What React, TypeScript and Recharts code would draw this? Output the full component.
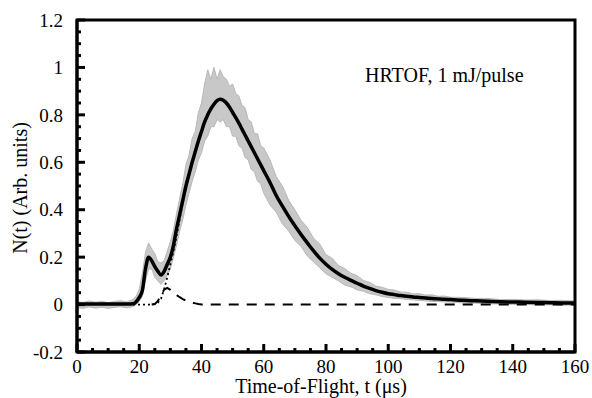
import React from "react";
import {
  Area,
  ComposedChart,
  Line,
  XAxis,
  YAxis,
} from "recharts";

// time axis (µs)
const TIME = [
  0, 2, 4, 6, 8, 10, 12, 14, 16,
  18, 19, 20, 21, 22, 23, 24, 25, 26, 27, 28, 29, 30, 31, 32, 33, 34, 35, 36, 37, 38, 39,
  40, 41, 42, 43, 44, 45, 46, 47, 48, 49, 50, 51, 52, 53, 54, 55, 56, 57, 58, 59, 60,
  62, 64, 66, 68, 70, 72, 74, 76, 78, 80, 82, 84, 86, 88, 90, 92, 94, 96, 98, 100,
  102, 104, 106, 108, 110, 112, 114, 116, 118, 120,
  124, 128, 132, 136, 140, 144, 148, 152, 156, 160,
];

// total fit (thick black)
const FIT = [
  0.002, 0.002, 0.002, 0.002, 0.002, 0.002, 0.002, 0.002, 0.002,
  0.003, 0.012, 0.03, 0.06, 0.15, 0.2, 0.185, 0.16, 0.14, 0.125, 0.14, 0.17, 0.2, 0.25, 0.32, 0.38, 0.44, 0.5, 0.55, 0.6, 0.645, 0.69,
  0.73, 0.77, 0.8, 0.825, 0.845, 0.86, 0.866, 0.862, 0.85, 0.832, 0.81, 0.788, 0.765, 0.74, 0.715, 0.69, 0.665, 0.64, 0.615, 0.59, 0.565,
  0.515, 0.46, 0.415, 0.372, 0.332, 0.295, 0.26, 0.226, 0.196, 0.17, 0.148, 0.13, 0.115, 0.102, 0.09, 0.078, 0.068, 0.059, 0.052, 0.046,
  0.042, 0.038, 0.035, 0.032, 0.03, 0.028, 0.026, 0.024, 0.022, 0.021,
  0.018, 0.016, 0.014, 0.012, 0.011, 0.01, 0.009, 0.008, 0.007, 0.007,
];

// measured signal spread (gray)
const GRAY_LO = [
  -0.013, -0.016, -0.01, -0.015, -0.011, -0.016, -0.012, -0.009, -0.014,
  -0.008, 0.0, 0.012, 0.035, 0.1, 0.15, 0.15, 0.115, 0.1, 0.085, 0.1, 0.125, 0.15, 0.2, 0.25, 0.31, 0.36, 0.42, 0.47, 0.52, 0.56, 0.61,
  0.64, 0.69, 0.71, 0.75, 0.75, 0.78, 0.77, 0.78, 0.75, 0.75, 0.71, 0.71, 0.67, 0.66, 0.62, 0.61, 0.57, 0.56, 0.52, 0.51, 0.47,
  0.42, 0.39, 0.34, 0.31, 0.27, 0.245, 0.205, 0.18, 0.155, 0.13, 0.115, 0.1, 0.082, 0.075, 0.062, 0.056, 0.046, 0.041, 0.034, 0.03,
  0.026, 0.025, 0.021, 0.02, 0.017, 0.016, 0.013, 0.013, 0.011, 0.011,
  0.007, 0.006, 0.003, 0.003, 0.001, 0.001, -0.001, -0.001, -0.003, -0.002,
];
const GRAY_HI = [
  0.012, 0.009, 0.015, 0.01, 0.014, 0.008, 0.013, 0.016, 0.011,
  0.022, 0.035, 0.065, 0.13, 0.22, 0.26, 0.235, 0.215, 0.18, 0.175, 0.185, 0.225, 0.265, 0.315, 0.385, 0.45, 0.51, 0.59, 0.63, 0.7, 0.73, 0.81,
  0.85, 0.93, 0.99, 0.95, 1.0, 0.95, 0.99, 0.96, 0.95, 0.92, 0.93, 0.89, 0.88, 0.84, 0.83, 0.78, 0.77, 0.72, 0.72, 0.67, 0.66,
  0.61, 0.54, 0.5, 0.44, 0.4, 0.355, 0.325, 0.28, 0.255, 0.21, 0.195, 0.165, 0.152, 0.132, 0.122, 0.102, 0.094, 0.078, 0.073, 0.064,
  0.061, 0.053, 0.052, 0.045, 0.046, 0.04, 0.041, 0.035, 0.036, 0.031,
  0.03, 0.026, 0.026, 0.021, 0.022, 0.019, 0.02, 0.017, 0.018, 0.015,
];

// slow component (dotted), visible only where it leaves the fit
const DOTTED_T = [18, 19, 20, 21, 22, 23, 24, 25, 26, 27, 28, 29, 30, 31, 32, 33, 34, 35, 36];
const DOTTED = [0.001, 0, 0, 0, 0, 0, 0, 0.002, 0.008, 0.025, 0.065, 0.115, 0.17, 0.225, 0.29, 0.36, 0.43, 0.495, 0.55];

// fast component (dashed)
const DASHED_T = [24, 25, 26, 27, 28, 29, 30, 31, 32, 33, 34, 35, 36, 37, 38, 39, 40, 60, 100, 160];
const DASHED = [0, 0.002, 0.015, 0.04, 0.063, 0.07, 0.062, 0.05, 0.04, 0.031, 0.023, 0.017, 0.012, 0.008, 0.005, 0.002, 0, 0, 0, 0];

const X_TICKS = Array.from({ length: 33 }, (_, i) => i * 5);
const Y_TICKS = [-0.2, -0.15, -0.1, -0.05, 0, 0.05, 0.1, 0.15, 0.2, 0.25, 0.3, 0.35, 0.4, 0.45, 0.5, 0.55, 0.6, 0.65, 0.7, 0.75, 0.8, 0.85, 0.9, 0.95, 1, 1.05, 1.1, 1.15, 1.2];

const data = TIME.map((t, i) => {
  const di = DOTTED_T.indexOf(t);
  const si = DASHED_T.indexOf(t);
  return {
    t,
    fit: FIT[i],
    band: [GRAY_LO[i], GRAY_HI[i]],
    slow: di >= 0 ? DOTTED[di] : null,
    fast: si >= 0 ? DASHED[si] : null,
  };
});

const FONT = '"Liberation Serif", "Times New Roman", serif';

// plot box in page pixels (matches margins and axis sizes below)
const L = 77;
const T = 20;
const R = 575;
const B = 352;

const XTick = (props: any) => {
  const { x, y, payload } = props;
  const v = payload.value;
  const major = v % 20 === 0;
  return (
    <g>
      <line x1={x} x2={x} y1={y} y2={y - (major ? 8 : 4)} stroke="#000" strokeWidth={3} />
      {major && (
        <text x={x} y={y + 21} textAnchor="middle" fontFamily={FONT} fontSize={19} fill="#000">
          {v}
        </text>
      )}
    </g>
  );
};

const YTick = (props: any) => {
  const { x, y, payload } = props;
  const v = payload.value;
  const major = Math.abs(v * 5 - Math.round(v * 5)) < 1e-6;
  return (
    <g>
      <line x1={x} x2={x + (major ? 8 : 4)} y1={y} y2={y} stroke="#000" strokeWidth={3} />
      {major && (
        <text x={x - 14} y={y} dy="0.35em" textAnchor="end" fontFamily={FONT} fontSize={19} fill="#000">
          {String(Math.round(v * 10) / 10)}
        </text>
      )}
    </g>
  );
};

export default function App() {
  return (
    <div style={{ position: "absolute", left: 0, top: 0, width: 592, height: 398, background: "#fff" }}>
      <ComposedChart
        width={592}
        height={398}
        data={data}
        margin={{ top: T, right: 592 - R, bottom: 0, left: 0 }}
      >
        <XAxis
          dataKey="t"
          type="number"
          domain={[0, 160]}
          ticks={X_TICKS}
          interval={0}
          height={398 - B}
          axisLine={{ stroke: "#000", strokeWidth: 3 }}
          tickLine={false}
          tickSize={0}
          tickMargin={0}
          tick={<XTick />}
          allowDataOverflow
        />
        <YAxis
          type="number"
          domain={[-0.2, 1.2]}
          ticks={Y_TICKS}
          interval={0}
          width={L}
          axisLine={{ stroke: "#000", strokeWidth: 3 }}
          tickLine={false}
          tickSize={0}
          tickMargin={0}
          tick={<YTick />}
          allowDataOverflow
        />
        <Area
          dataKey="band"
          type="linear"
          stroke="#b8b8b8"
          strokeWidth={1}
          fill="#c8c8c8"
          fillOpacity={1}
          dot={false}
          activeDot={false}
          isAnimationActive={false}
        />
        <Line
          dataKey="fast"
          type="linear"
          stroke="#000"
          strokeWidth={2}
          strokeDasharray="10 8"
          dot={false}
          activeDot={false}
          connectNulls
          isAnimationActive={false}
        />
        <Line
          dataKey="slow"
          type="linear"
          stroke="#000"
          strokeWidth={1.8}
          strokeDasharray="2 3"
          dot={false}
          activeDot={false}
          connectNulls
          isAnimationActive={false}
        />
        <Line
          dataKey="fit"
          type="monotone"
          stroke="#000"
          strokeWidth={3.5}
          dot={false}
          activeDot={false}
          isAnimationActive={false}
        />
      </ComposedChart>
      <svg
        width={592}
        height={398}
        style={{ position: "absolute", left: 0, top: 0, pointerEvents: "none" }}
      >
        <path
          d={`M${L},${T} H${R} V${B} H${L} Z`}
          fill="none"
          stroke="#000"
          strokeWidth={3}
        />
        <text x={365} y={82} fontFamily={FONT} fontSize={20} fill="#000">
          HRTOF, 1 mJ/pulse
        </text>
        <text x={321} y={393} textAnchor="middle" fontFamily={FONT} fontSize={20} fill="#000">
          Time-of-Flight, t (μs)
        </text>
        <text
          x={27}
          y={188}
          textAnchor="middle"
          transform="rotate(-90, 27, 188)"
          fontFamily={FONT}
          fontSize={20}
          fill="#000"
        >
          N(t) (Arb. units)
        </text>
      </svg>
    </div>
  );
}
